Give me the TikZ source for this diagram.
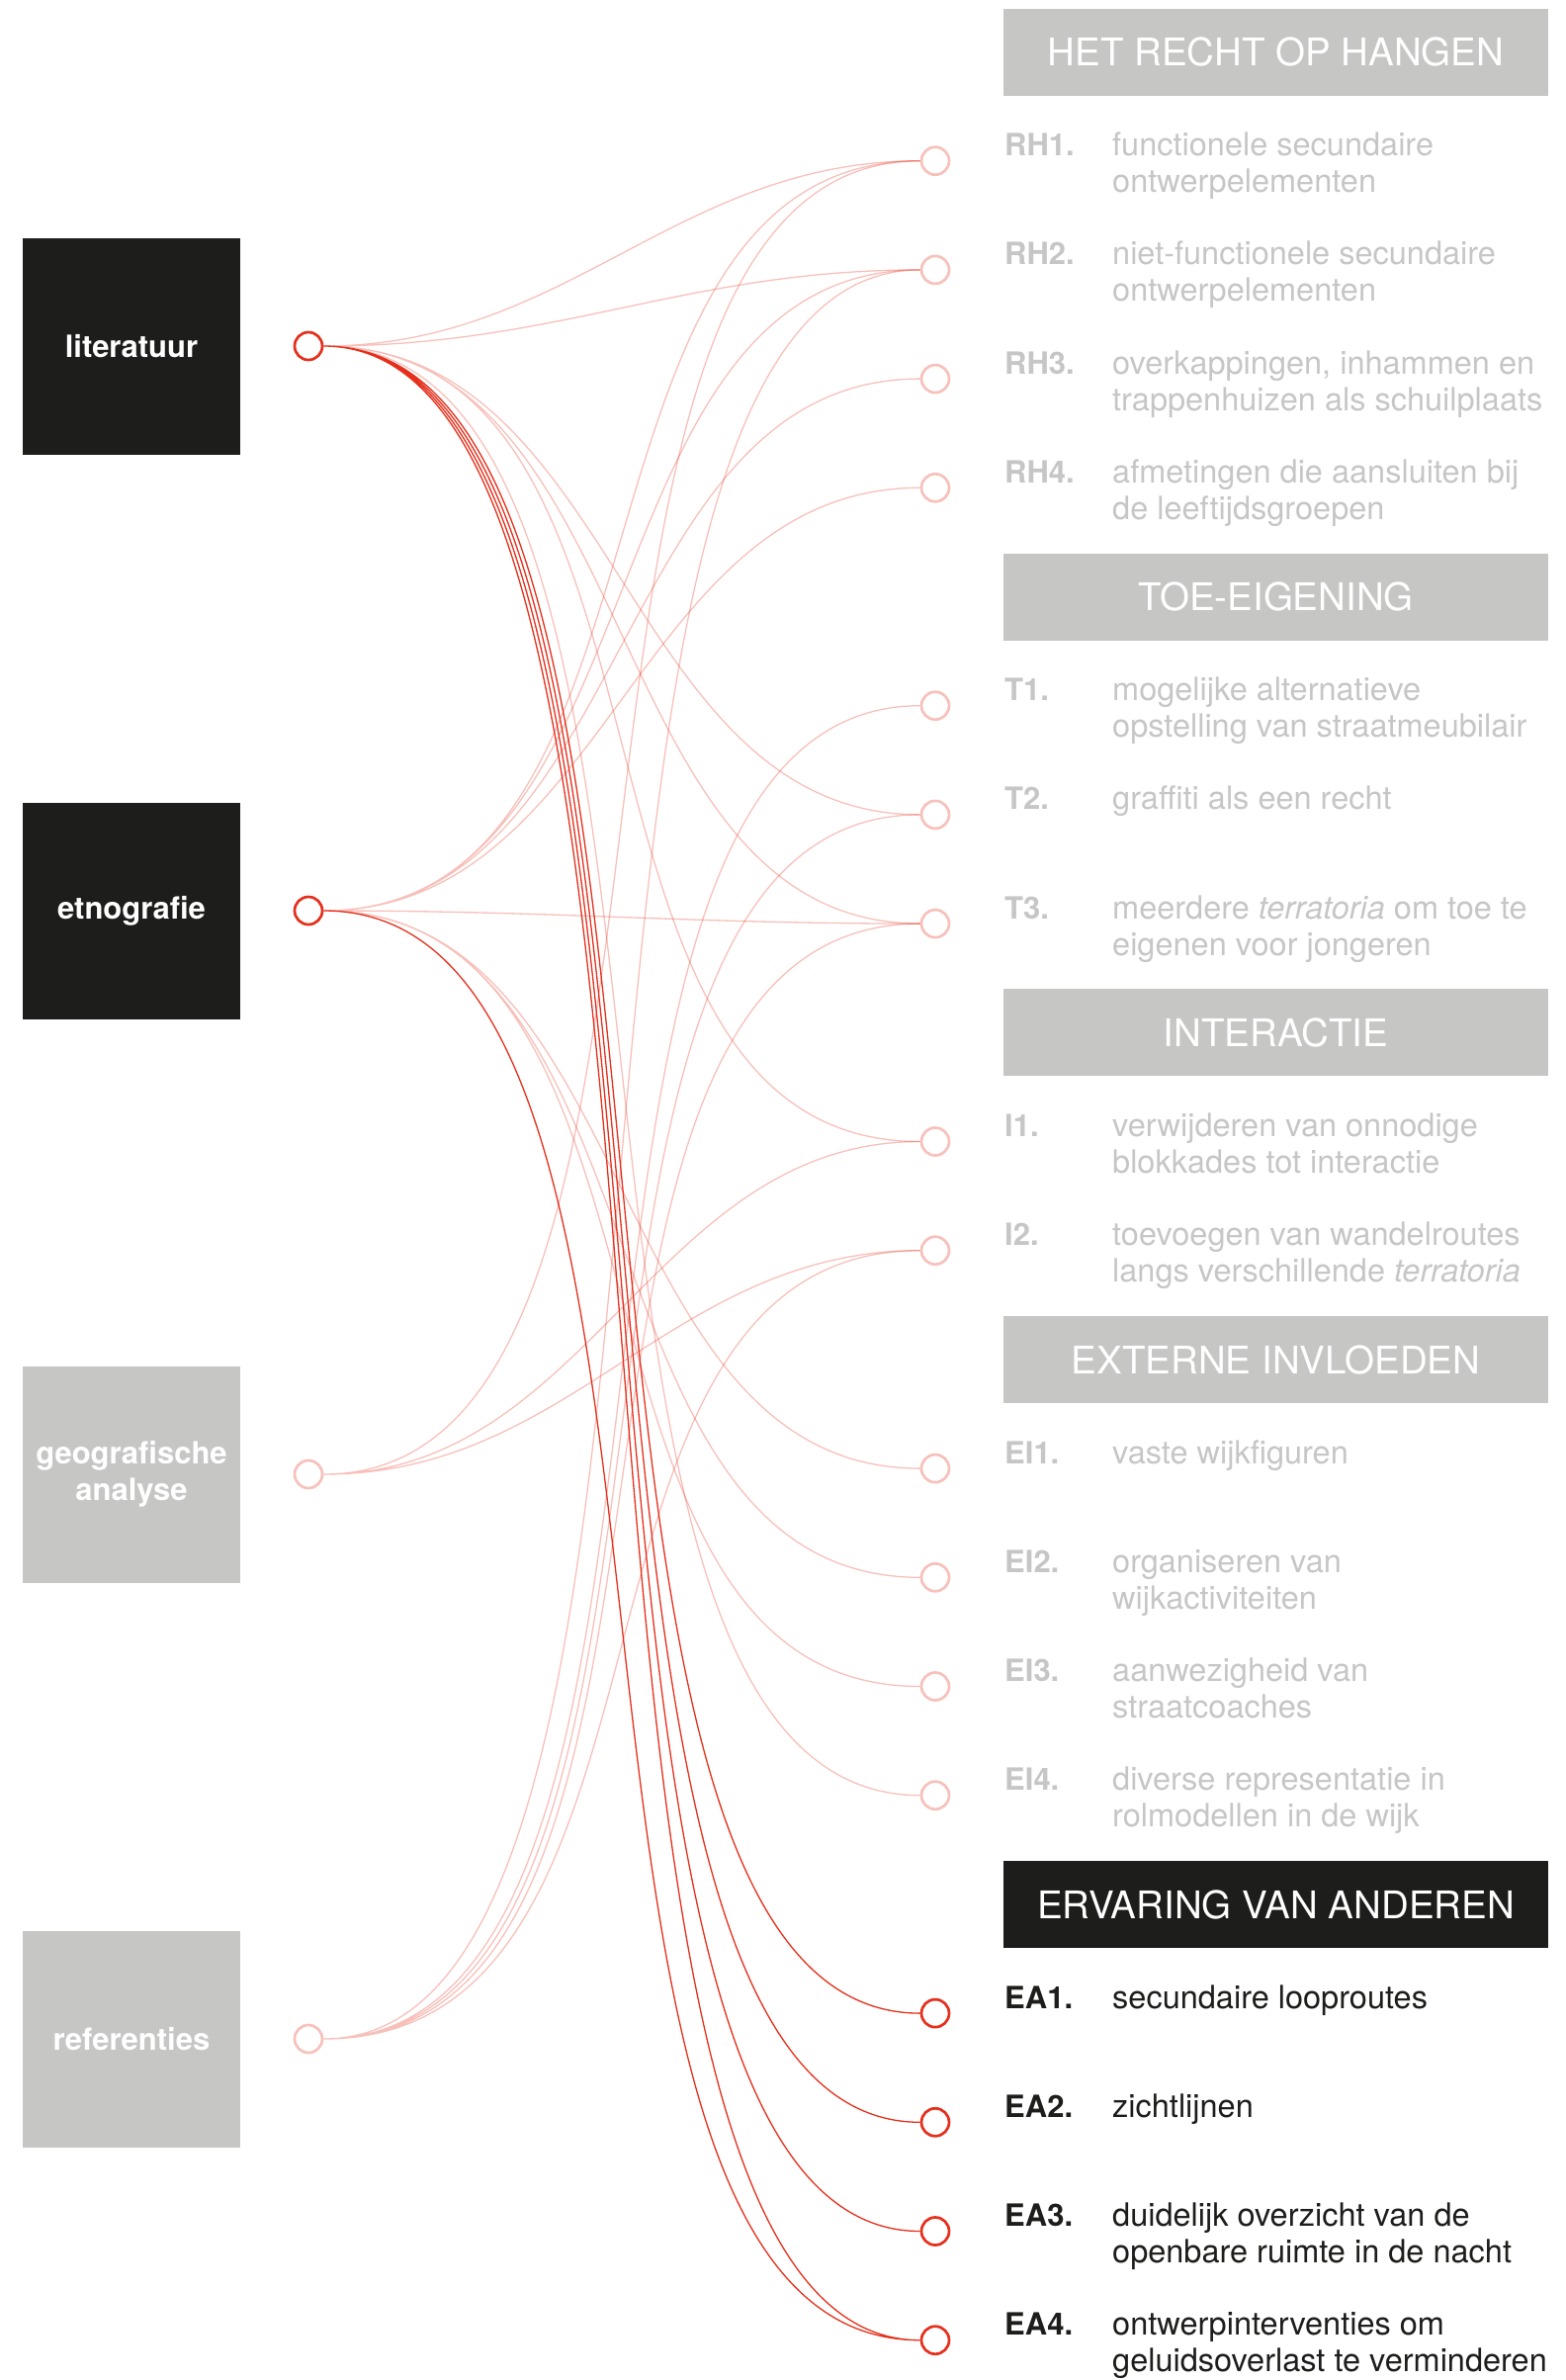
\documentclass[tikz,border=0pt]{standalone}
\usepackage{fontspec}
\setmainfont{TeX Gyre Heros}
\usepackage{xcolor}
\usepackage{tikz}
\usetikzlibrary{calc}
\definecolor{inkdark}{HTML}{1D1D1B}
\definecolor{boxgrey}{HTML}{C6C6C5}
\definecolor{txtgrey}{HTML}{C6C6C6}
\definecolor{accent}{RGB}{228,48,28}

\begin{document}
\begin{tikzpicture}[x=1pt,y=-1pt,
    srcbox/.style={minimum width=220pt,minimum height=219pt,inner sep=0pt,text=white,align=center,
      font=\fontsize{31}{37}\selectfont\bfseries},
    headbox/.style={minimum width=551pt,minimum height=88pt,inner sep=0pt,text=white,
      font=\fontsize{38.5}{40}\selectfont},
    dot/.style={circle,draw=accent!30!white,line width=2.7pt,fill=white,minimum size=28pt,inner sep=0pt},
    hotdot/.style={dot,draw=accent},
    link/.style={line width=1.3pt,to path={let \p1=(\tikztostart.east), \p2=(\tikztotarget.west),
      \n1={min(440,3.915*veclen((\x2-\x1)/10,(\y2-\y1)/10))} in
      (\p1) .. controls +(\n1,0) and +(-\n1,0) .. (\p2)}},
    faint/.style={link,draw=accent,draw opacity=0.3},
    hot/.style={link,draw=accent},
    lbl/.style={anchor=base west,inner sep=0pt,font=\fontsize{31}{37}\selectfont\bfseries},
    desc/.style={anchor=base west,inner sep=0pt,font=\fontsize{32.5}{37}\selectfont}]
  \useasboundingbox (0,0) rectangle (1584,2407);

  % bronnen
  \node[srcbox,fill=inkdark] (lit) at (133,350) {literatuur};
  \node[srcbox,fill=inkdark] (etn) at (133,921) {etnografie};
  \node[srcbox,fill=boxgrey] (geo) at (133,1491) {geografische\\analyse};
  \node[srcbox,fill=boxgrey] (ref) at (133,2062) {referenties};
  \node[hotdot] (litdot) at (312,350) {};
  \node[hotdot] (etndot) at (312,921) {};
  \node[dot] (geodot) at (312,1491) {};
  \node[dot] (refdot) at (312,2062) {};

  % categorieen
  \node[headbox,fill=boxgrey] (hrh) at (1290.5,52.5) {HET RECHT OP HANGEN};
  \node[headbox,fill=boxgrey] (ht) at (1290.5,603.5) {TOE-EIGENING};
  \node[headbox,fill=boxgrey] (hi) at (1290.5,1044.3) {INTERACTIE};
  \node[headbox,fill=boxgrey] (hei) at (1290.5,1375) {EXTERNE INVLOEDEN};
  \node[headbox,fill=inkdark] (hea) at (1290.5,1926) {ERVARING VAN ANDEREN};

  \foreach \nm/\k/\lab/\txt in {
      rh1/0/RH1./{functionele secundaire\\ontwerpelementen},
      rh2/1/RH2./{niet-functionele secundaire\\ontwerpelementen},
      rh3/2/RH3./{overkappingen, inhammen en\\trappenhuizen als schuilplaats},
      rh4/3/RH4./{afmetingen die aansluiten bij\\de leeftijdsgroepen},
      t1/5/T1./{mogelijke alternatieve\\opstelling van straatmeubilair},
      t2/6/T2./{graffiti als een recht},
      t3/7/T3./{meerdere \textit{terratoria} om toe te\\eigenen voor jongeren},
      i1/9/I1./{verwijderen van onnodige\\blokkades tot interactie},
      i2/10/I2./{toevoegen van wandelroutes\\langs verschillende \textit{terratoria}},
      ei1/12/EI1./{vaste wijkfiguren},
      ei2/13/EI2./{organiseren van\\wijkactiviteiten},
      ei3/14/EI3./{aanwezigheid van\\straatcoaches},
      ei4/15/EI4./{diverse representatie in\\rolmodellen in de wijk}} {
    \node[dot] (\nm) at (946,{162.7+110.2*\k}) {};
    \node[lbl,text=txtgrey] at (1016,{157.7+110.2*\k}) {\lab};
    \node[desc,text=txtgrey] at (1125,{157.7+110.2*\k}) {\parbox[t]{470pt}{\raggedright\txt}};
  }
  \foreach \nm/\k/\lab/\txt in {
      ea1/17/EA1./{secundaire looproutes},
      ea2/18/EA2./{zichtlijnen},
      ea3/19/EA3./{duidelijk overzicht van de\\openbare ruimte in de nacht},
      ea4/20/EA4./{ontwerpinterventies om\\geluidsoverlast te verminderen}} {
    \node[hotdot] (\nm) at (946,{162.7+110.2*\k}) {};
    \node[lbl,text=inkdark] at (1016,{157.7+110.2*\k}) {\lab};
    \node[desc,text=inkdark] at (1125,{157.7+110.2*\k}) {\parbox[t]{470pt}{\raggedright\txt}};
  }

  % verbindingen
  \draw[faint] (litdot) to (rh1) (litdot) to (rh2) (litdot) to (t2)
    (litdot) to (t3) (litdot) to (i1) (litdot) to (ei4);
  \draw[faint] (etndot) to (rh1) (etndot) to (rh2) (etndot) to (rh3) (etndot) to (rh4)
    (etndot) to (t3) (etndot) to (ei1) (etndot) to (ei2) (etndot) to (ei3);
  \draw[faint] (geodot) to (rh1) (geodot) to (i1) (geodot) to (i2);
  \draw[faint] (refdot) to (rh2) (refdot) to (t1) (refdot) to (t2)
    (refdot) to (t3) (refdot) to (i2);
  \draw[hot] (litdot) to (ea1) (litdot) to (ea2) (litdot) to (ea3) (litdot) to (ea4)
    (etndot) to (ea4);
\end{tikzpicture}
\end{document}
